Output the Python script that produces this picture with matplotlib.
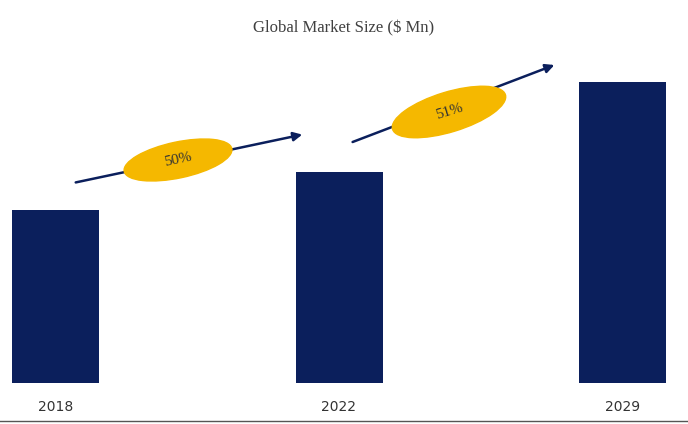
import matplotlib.pyplot as plt
from matplotlib.patches import Ellipse, FancyArrowPatch
from matplotlib.transforms import Affine2D

years = ["2018", "2022", "2029"]
market_size = [173, 211, 301]
growth_labels = ["50%", "51%"]

W, H = 688, 424
fig = plt.figure(figsize=(W / 100, H / 100), dpi=100)
base = 383
ax = fig.add_axes([0, (H - base) / H, 1, base / H])
step = 283.5
ax.set_xlim(-55.5 / step, (W - 55.5) / step)
ax.set_ylim(0, base)
ax.bar(range(len(years)), market_size, width=87 / step, color="#0b1f5c")
ax.axis("off")

# pixel -> figure fraction helpers (y measured from top)
def fx(px):
    return px / W

def fy(py):
    return 1 - py / H

pix = Affine2D().scale(1 / W, 1 / H) + fig.transFigure

fig.text(fx(344), fy(28), "Global Market Size ($ Mn)", ha="center", va="center",
         fontsize=12, family="Liberation Serif", color="#404040")
for i, y in enumerate(years):
    fig.text(fx(55.5 + i * step), fy(407), y, ha="center", va="center",
             fontsize=10, color="#333333")
fig.add_artist(plt.Line2D([0, 1], [fy(421), fy(421)], color="#555555", lw=1))

arrows = [((73, 183), (305, 134)), ((350, 143), (557, 64))]
ellipses = [((178, 160), 110, 36, 12), ((449, 112), 118, 40, 17)]
for (p0, p1), (c, w, h, ang), lab in zip(arrows, ellipses, growth_labels):
    fig.add_artist(FancyArrowPatch((p0[0], H - p0[1]), (p1[0], H - p1[1]),
                                   transform=pix, arrowstyle="-|>",
                                   mutation_scale=13, color="#0b1f5c", lw=1.8))
    fig.add_artist(Ellipse((c[0], H - c[1]), w, h, angle=ang,
                           color="#f5b800", transform=pix))
    fig.text(fx(c[0]), fy(c[1]), lab, ha="center", va="center", rotation=ang,
             fontsize=11, family="Liberation Serif", color="#333333")

fig.savefig("out.png", dpi=100)
